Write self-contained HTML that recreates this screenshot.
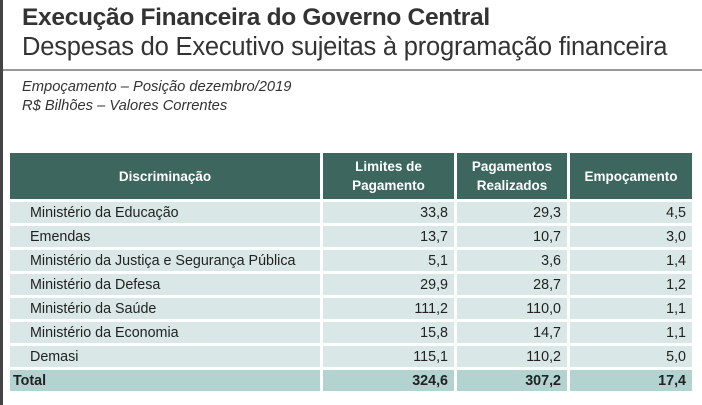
<!DOCTYPE html>
<html><head><meta charset="utf-8"><style>
body{margin:0;width:702px;height:405px;background:#fff;position:relative;overflow:hidden;font-family:"Liberation Sans",sans-serif;color:#222}
.bar{position:absolute;left:0;top:0;width:3px;height:405px;background:#444}
.t1{position:absolute;left:22px;top:4px;font-size:24.5px;font-weight:bold;color:#333;letter-spacing:-0.3px}
.t2{position:absolute;left:22px;top:33px;font-size:25.5px;color:#333;letter-spacing:-0.2px}
.hr{position:absolute;left:3px;right:0;top:69px;height:2px;background:#999}
.s{position:absolute;left:22px;font-size:14.7px;font-style:italic;color:#333}
.c{position:absolute;font-size:14.3px;box-sizing:border-box;display:flex;align-items:center}
.h{background:#3d665e;color:#fff;font-weight:bold;justify-content:center;text-align:center;line-height:19px;font-size:13.5px}
.r{background:#d9e8e6}
.tot{background:#b2d3cf;font-weight:bold}
.num{justify-content:flex-end;padding-right:6px}
.lab{padding-left:20px}
</style></head><body>
<div class="bar"></div>
<div class="t1">Execução Financeira do Governo Central</div>
<div class="t2">Despesas do Executivo sujeitas à programação financeira</div>
<div class="hr"></div>
<div class="s" style="top:79px">Empoçamento – Posição dezembro/2019</div>
<div class="s" style="top:98px">R$ Bilhões – Valores Correntes</div>
<div id="tbl"></div>
<script>
const headers=["Discriminação","Limites de<br>Pagamento","Pagamentos<br>Realizados","Empoçamento"];
const labels=["Ministério da Educação","Emendas","Ministério da Justiça e Segurança Pública","Ministério da Defesa","Ministério da Saúde","Ministério da Economia","Demasi","Total"];
const limites=["33,8","13,7","5,1","29,9","111,2","15,8","115,1","324,6"];
const pagos=["29,3","10,7","3,6","28,7","110,0","14,7","110,2","307,2"];
const empoc=["4,5","3,0","1,4","1,2","1,1","1,1","5,0","17,4"];
const cols=[[10,310],[323,131],[457,110],[570,122]];
const tbl=document.getElementById('tbl');
function cell(x,y,w,h,cls,html){const d=document.createElement('div');d.className='c '+cls;d.style.cssText=`left:${x}px;top:${y}px;width:${w}px;height:${h}px`;d.innerHTML=html;tbl.appendChild(d);return d;}
headers.forEach((t,i)=>{const d=cell(cols[i][0],153,cols[i][1],46,'h',t);

});
labels.forEach((l,r)=>{const y=202+r*24;const isT=r===labels.length-1;const base=isT?'tot':'r';
const vals=[l,limites[r],pagos[r],empoc[r]];
vals.forEach((v,i)=>{const d=cell(cols[i][0],y,cols[i][1],21,base+' '+(i?'num':(isT?'':'lab')),v);
if(isT&&i===0)d.style.paddingLeft='3px';

});});
</script>
</body></html>
